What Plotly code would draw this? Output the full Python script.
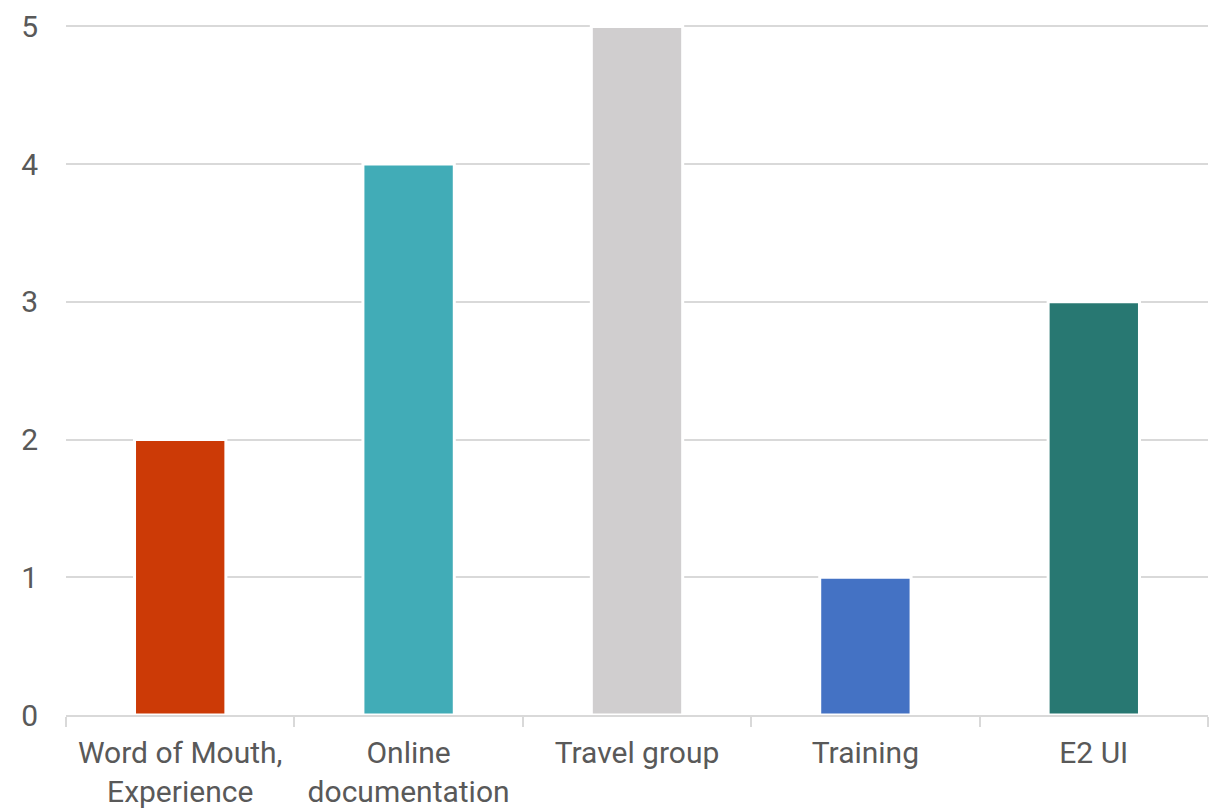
import plotly.graph_objects as go

categories = ["Word of Mouth,<br>Experience", "Online<br>documentation", "Travel group", "Training", "E2 UI"]
values = [2, 4, 5, 1, 3]
colors = ["#CC3A06", "#41ACB7", "#D0CECF", "#4472C4", "#287872"]
y_ticks = [0, 1, 2, 3, 4, 5]

fig = go.Figure(
    go.Bar(
        x=categories,
        y=values,
        marker=dict(color=colors, line=dict(color="white", width=3)),
        width=0.4,
    )
)

font = dict(family="Roboto", size=30, color="#595959")

fig.update_layout(
    width=1215,
    height=809,
    margin=dict(l=66, r=7, t=25, b=94),
    paper_bgcolor="white",
    plot_bgcolor="white",
    showlegend=False,
    font=font,
    bargap=0.6,
)

fig.update_xaxes(
    automargin=False,
    showline=True,
    linecolor="#D9D9D9",
    linewidth=2,
    ticks="outside",
    tickson="boundaries",
    ticklen=10,
    tickwidth=2,
    tickcolor="#D9D9D9",
    showgrid=False,
    tickfont=font,
    ticklabelstandoff=10,
)

fig.update_yaxes(
    automargin=False,
    range=[0, 5.01],
    tickvals=y_ticks,
    showgrid=True,
    gridcolor="#D9D9D9",
    gridwidth=2,
    zeroline=False,
    showline=False,
    tickfont=font,
    ticklabelstandoff=27,
)

fig.write_html("out.html")
